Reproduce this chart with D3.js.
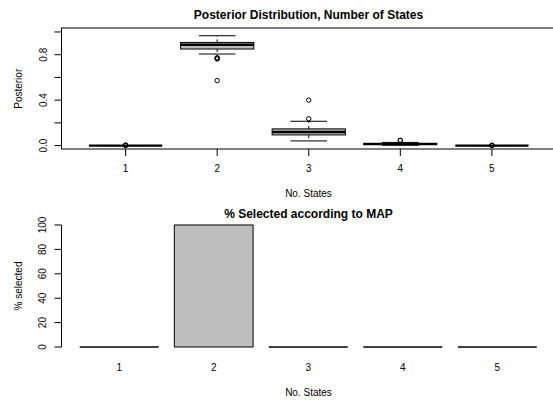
<!DOCTYPE html>
<html>
<head>
<meta charset="utf-8">
<script src="https://cdn.jsdelivr.net/npm/d3@7"></script>
<style>
  html, body { margin: 0; padding: 0; background: #fff; }
  svg { display: block; font-family: "Liberation Sans", Arial, Helvetica, sans-serif; }
</style>
</head>
<body>
<svg id="chart" width="553" height="400"></svg>
<script>
// Number of hidden states considered
const states = [1, 2, 3, 4, 5];

// Boxplot summaries of the posterior probability for each number of states
const whiskerLow  = [0.000, 0.806, 0.041, 0.003, 0.000];
const quartile1   = [0.000, 0.850, 0.094, 0.010, 0.000];
const medians     = [0.000, 0.888, 0.120, 0.014, 0.000];
const quartile3   = [0.000, 0.908, 0.147, 0.018, 0.000];
const whiskerHigh = [0.000, 0.967, 0.214, 0.028, 0.000];
const outliers    = [
  [0.001, 0.002, 0.003, 0.004],
  [0.762, 0.768, 0.774, 0.572],
  [0.236, 0.400],
  [0.044, 0.047],
  [0.001, 0.002, 0.003]
];

// Percentage of runs in which each number of states was selected by MAP
const pctSelected = [0, 100, 0, 0, 0];

// Tick values and labels
const postTicks = [0, 0.2, 0.4, 0.6, 0.8, 1.0];
const postTickLabels = ["0.0", "", "0.4", "", "0.8", ""];
const pctTicks = [0, 20, 40, 60, 80, 100];
const pctTickLabels = ["0", "20", "40", "60", "80", "100"];

const svg = d3.select("#chart");
const fill = "#bebebe";
const ink = "#000";

// ---------- Top panel: boxplots of posterior ----------
const x1 = d3.scaleLinear().domain([0.3, 5.7]).range([61.5, 556]);
const y1 = d3.scaleLinear().domain([-0.03, 1.035]).range([149, 28]);
const unit = x1(2) - x1(1);
const boxW = 0.8 * unit;
const capW = 0.4 * unit;

const topPanel = svg.append("g");

// plot frame
topPanel.append("rect")
  .attr("x", x1(0.3)).attr("y", y1(1.035))
  .attr("width", x1(5.7) - x1(0.3)).attr("height", y1(-0.03) - y1(1.035))
  .attr("fill", "none").attr("stroke", ink).attr("stroke-width", 1);

const boxes = topPanel.selectAll("g.box").data(states).join("g").attr("class", "box");
boxes.each(function(s, i) {
  const g = d3.select(this);
  const cx = x1(s);
  // dashed whiskers
  g.append("line").attr("x1", cx).attr("x2", cx)
    .attr("y1", y1(quartile3[i])).attr("y2", y1(whiskerHigh[i]))
    .attr("stroke", ink).attr("stroke-dasharray", "3,3");
  g.append("line").attr("x1", cx).attr("x2", cx)
    .attr("y1", y1(quartile1[i])).attr("y2", y1(whiskerLow[i]))
    .attr("stroke", ink).attr("stroke-dasharray", "3,3");
  // whisker caps
  [whiskerHigh[i], whiskerLow[i]].forEach(v => {
    g.append("line").attr("x1", cx - capW / 2).attr("x2", cx + capW / 2)
      .attr("y1", y1(v)).attr("y2", y1(v)).attr("stroke", ink);
  });
  // box
  g.append("rect")
    .attr("x", cx - boxW / 2).attr("width", boxW)
    .attr("y", y1(quartile3[i])).attr("height", Math.max(0, y1(quartile1[i]) - y1(quartile3[i])))
    .attr("fill", fill).attr("stroke", ink).attr("stroke-width", 1);
  // median
  g.append("line").attr("x1", cx - boxW / 2).attr("x2", cx + boxW / 2)
    .attr("y1", y1(medians[i])).attr("y2", y1(medians[i]))
    .attr("stroke", ink).attr("stroke-width", 2.4);
  // outliers
  g.selectAll("circle").data(outliers[i]).join("circle")
    .attr("cx", cx).attr("cy", d => y1(d)).attr("r", 2.2)
    .attr("fill", "none").attr("stroke", ink).attr("stroke-width", 1);
});

// y axis (left)
const yAxis1 = topPanel.append("g");
yAxis1.selectAll("line.tick").data(postTicks).join("line").attr("class", "tick")
  .attr("x1", 54.5).attr("x2", 61.5)
  .attr("y1", d => y1(d)).attr("y2", d => y1(d)).attr("stroke", ink);
yAxis1.selectAll("text").data(postTicks).join("text")
  .attr("transform", d => `translate(47,${y1(d)}) rotate(-90)`)
  .attr("text-anchor", "middle").attr("font-size", 10)
  .text((d, i) => postTickLabels[i]);

// x axis (bottom)
const xAxis1 = topPanel.append("g");
xAxis1.selectAll("line").data(states).join("line")
  .attr("x1", d => x1(d)).attr("x2", d => x1(d))
  .attr("y1", 149).attr("y2", 156).attr("stroke", ink);
xAxis1.selectAll("text").data(states).join("text")
  .attr("x", d => x1(d)).attr("y", 172)
  .attr("text-anchor", "middle").attr("font-size", 10)
  .text(d => d);

topPanel.append("text").attr("x", 308.5).attr("y", 19)
  .attr("text-anchor", "middle").attr("font-size", 12).attr("font-weight", "bold")
  .text("Posterior Distribution, Number of States");
topPanel.append("text").attr("x", 308.5).attr("y", 197)
  .attr("text-anchor", "middle").attr("font-size", 10)
  .text("No. States");
topPanel.append("text").attr("transform", `translate(22,${y1(0.5)}) rotate(-90)`)
  .attr("text-anchor", "middle").attr("font-size", 10)
  .text("Posterior");

// ---------- Bottom panel: barplot of MAP selection ----------
const x2 = d3.scaleLinear().domain([-0.032, 6.232]).range([61.5, 555]);
const y2 = d3.scaleLinear().domain([-4, 104]).range([351.9, 220.1]);
const barLeft = i => 0.2 + i * 1.2;

const bottomPanel = svg.append("g");
// bars drawn as closed outlines so that zero-height bars still show as a line
bottomPanel.selectAll("path.bar").data(pctSelected).join("path").attr("class", "bar")
  .attr("d", (d, i) => {
    const p = d3.path();
    const xl = x2(barLeft(i)), xr = x2(barLeft(i) + 1);
    p.moveTo(xl, y2(0));
    p.lineTo(xr, y2(0));
    p.lineTo(xr, y2(d));
    p.lineTo(xl, y2(d));
    p.closePath();
    return p.toString();
  })
  .attr("fill", fill).attr("stroke", ink).attr("stroke-width", 1);

bottomPanel.selectAll("text.xlab").data(states).join("text").attr("class", "xlab")
  .attr("x", (d, i) => x2(barLeft(i) + 0.5)).attr("y", 371)
  .attr("text-anchor", "middle").attr("font-size", 10)
  .text(d => d);

const yAxis2 = bottomPanel.append("g");
yAxis2.append("line").attr("x1", 61.5).attr("x2", 61.5)
  .attr("y1", y2(0)).attr("y2", y2(100)).attr("stroke", ink);
yAxis2.selectAll("line.tick").data(pctTicks).join("line").attr("class", "tick")
  .attr("x1", 54.5).attr("x2", 61.5)
  .attr("y1", d => y2(d)).attr("y2", d => y2(d)).attr("stroke", ink);
yAxis2.selectAll("text").data(pctTicks).join("text")
  .attr("transform", d => `translate(45.5,${y2(d)}) rotate(-90)`)
  .attr("text-anchor", "middle").attr("font-size", 10)
  .text((d, i) => pctTickLabels[i]);

bottomPanel.append("text").attr("x", 308.5).attr("y", 218)
  .attr("text-anchor", "middle").attr("font-size", 12).attr("font-weight", "bold")
  .text("% Selected according to MAP");
bottomPanel.append("text").attr("x", 308.5).attr("y", 396)
  .attr("text-anchor", "middle").attr("font-size", 10)
  .text("No. States");
bottomPanel.append("text").attr("transform", `translate(22,${y2(50)}) rotate(-90)`)
  .attr("text-anchor", "middle").attr("font-size", 10)
  .text("% selected");
</script>
</body>
</html>
